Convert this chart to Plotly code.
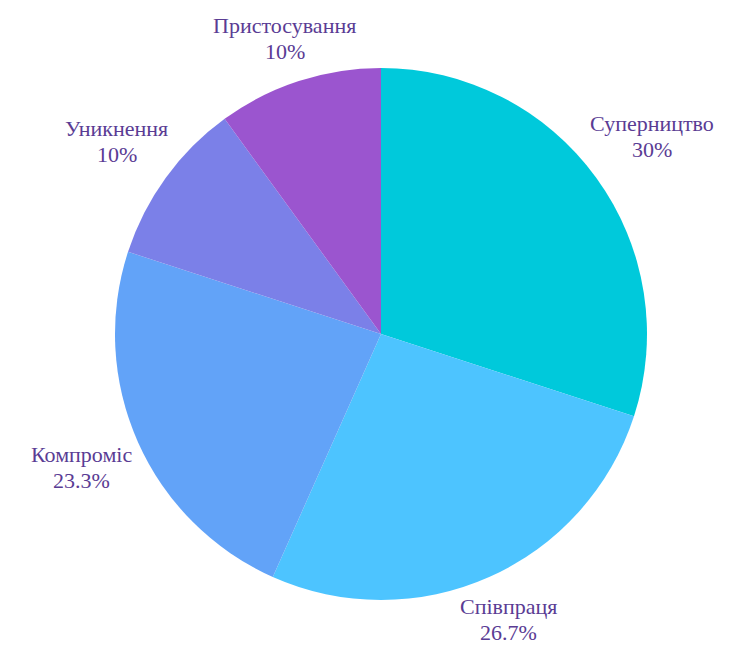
import math
import plotly.graph_objects as go

# Conflict-handling styles and number of respondents for each
labels = ["Суперництво", "Співпраця", "Компроміс", "Уникнення", "Пристосування"]
counts = [9, 8, 7, 3, 3]
colors = ["#00C9DB", "#4DC4FF", "#62A3F8", "#7B80E8", "#9B55CF"]

W, H = 737, 646
M = dict(l=115, r=90, t=68, b=46)
plot_w = W - M["l"] - M["r"]
plot_h = H - M["t"] - M["b"]
cx = M["l"] + plot_w / 2
cy = M["t"] + plot_h / 2

FONT_SIZE = 22
label_font = dict(family="Liberation Serif, DejaVu Serif, serif", size=FONT_SIZE, color="#5A3C94")
GAP_R = 272           # closest distance of a label block to the pie centre, px
CHAR_W = 0.5 * FONT_SIZE
LINE_STEP = 26        # baseline-to-baseline distance inside a label, px
BLOCK_HH = (LINE_STEP + 1.1 * FONT_SIZE) / 2


def nearest_dist(bx, by, hw, hh):
    """Distance from pie centre to the nearest point of a box centred at (bx, by)."""
    nx = min(max(cx, bx - hw), bx + hw)
    ny = min(max(cy, by - hh), by + hh)
    return math.hypot(nx - cx, ny - cy)


def place(dx, dy, hw, hh):
    """Push a label box outward along (dx, dy) until it sits GAP_R from the centre."""
    lo, hi = 0.0, 800.0
    for _ in range(60):
        t = (lo + hi) / 2
        if nearest_dist(cx + t * dx, cy + t * dy, hw, hh) < GAP_R:
            lo = t
        else:
            hi = t
    return cx + hi * dx, cy + hi * dy


def to_paper(px, py):
    return (px - M["l"]) / plot_w, (H - M["b"] - py) / plot_h


fig = go.Figure(
    go.Pie(
        labels=labels,
        values=counts,
        sort=False,
        direction="clockwise",
        rotation=0,
        marker=dict(colors=colors, line=dict(width=0)),
        textinfo="none",
        showlegend=False,
        hoverinfo="label+percent",
    )
)

total = sum(counts)
cum = 0
annotations = []
for lab, c in zip(labels, counts):
    share = c / total
    mid = (cum + share / 2) * 2 * math.pi  # clockwise from 12 o'clock
    cum += share
    pct = f"{100 * share:.1f}".rstrip("0").rstrip(".") + "%"
    hw = max(len(lab), len(pct)) * CHAR_W / 2
    px, py = place(math.sin(mid), -math.cos(mid), hw, BLOCK_HH)
    # category name above, share below
    for text, off in ((lab, -LINE_STEP / 2), (pct, LINE_STEP / 2)):
        x, y = to_paper(px, py + off)
        annotations.append(
            dict(
                x=x, y=y, xref="paper", yref="paper",
                text=text, showarrow=False,
                xanchor="center", yanchor="middle",
                borderpad=0, font=label_font,
            )
        )

fig.update_layout(
    width=W,
    height=H,
    margin=M,
    paper_bgcolor="white",
    plot_bgcolor="white",
    annotations=annotations,
)

fig.write_html("out.html")
